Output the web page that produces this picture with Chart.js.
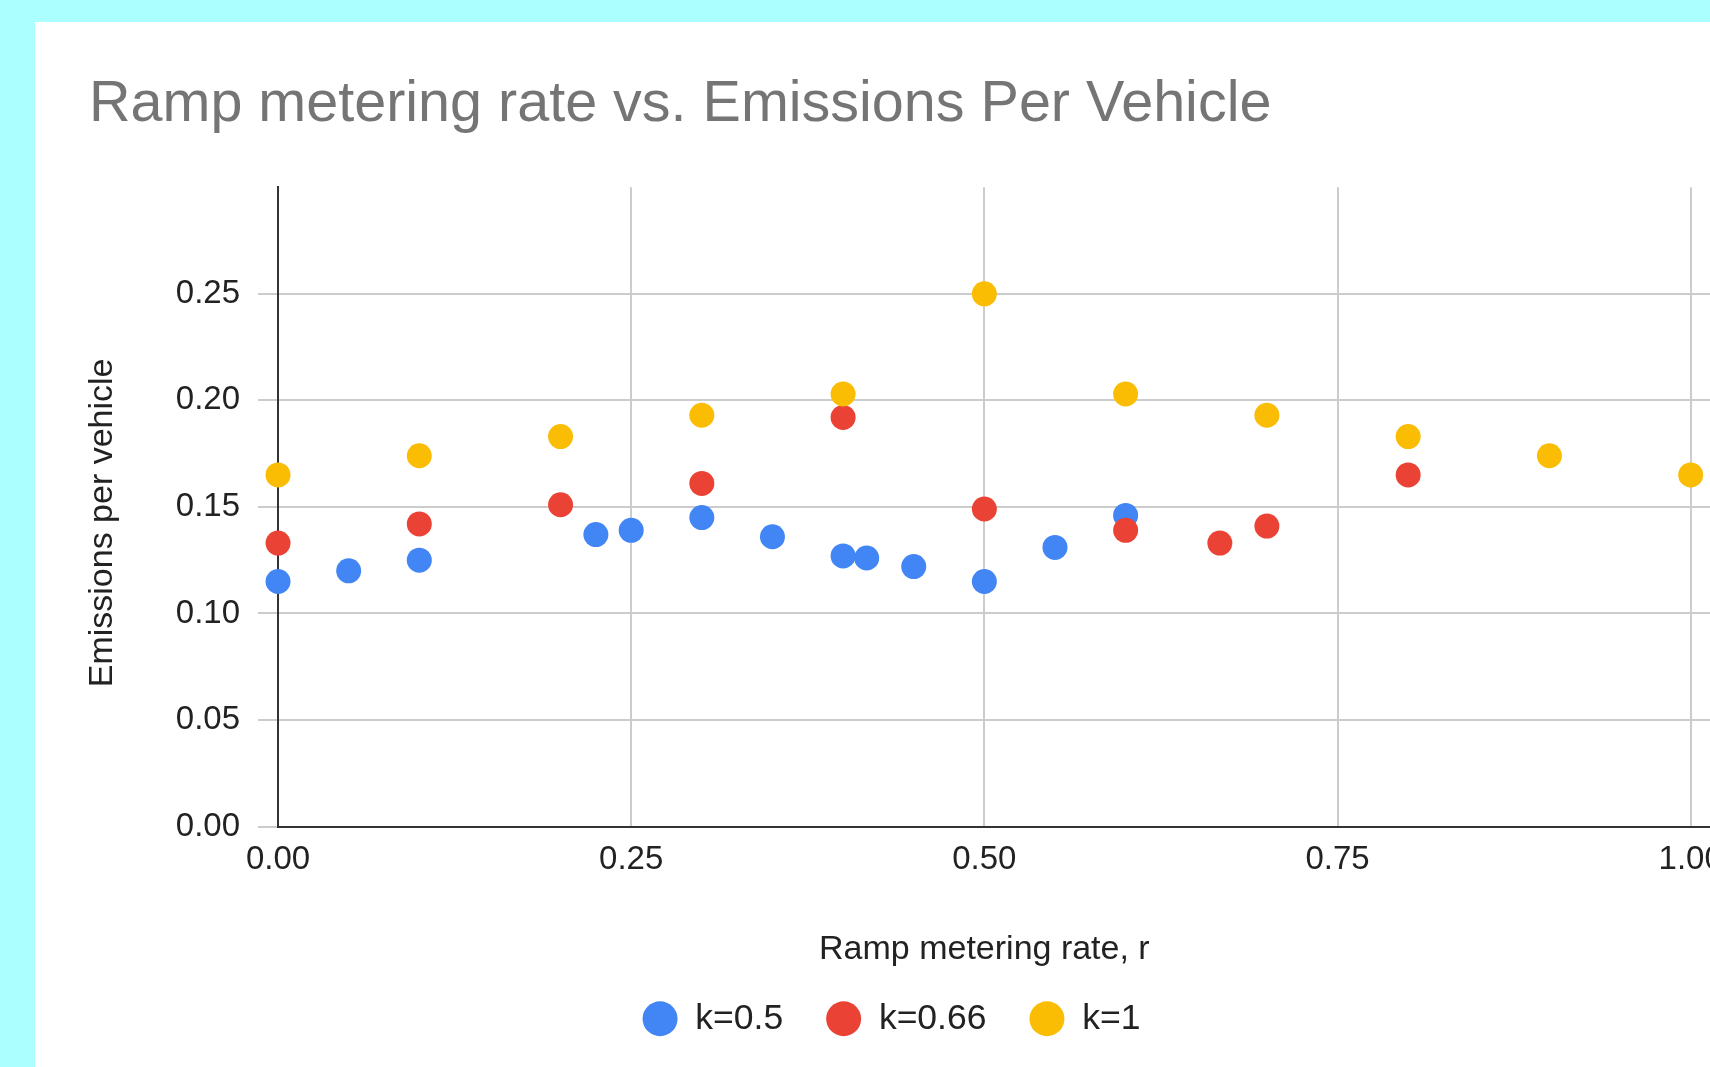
<!DOCTYPE html>
<html>
<head>
<meta charset="utf-8">
<title>Ramp metering rate vs. Emissions Per Vehicle</title>
<script src="https://cdn.jsdelivr.net/npm/chart.js@4.4.1/dist/chart.umd.min.js"></script>
<style>
  html, body { margin: 0; padding: 0; overflow: hidden; }
  body { background: #abffff; width: 1710px; height: 1067px; position: relative; }
  #card { position: absolute; left: 35px; top: 22px; width: 2000px; height: 2000px; background: #fff; }
  #chart { position: absolute; left: 0; top: 0; }
</style>
</head>
<body>
<div id="card"></div>
<canvas id="chart" width="1736" height="1067"></canvas>
<script>
// series
const seriesNames = ["k=0.5", "k=0.66", "k=1"];
const seriesColors = ["#4285f4", "#ea4335", "#fbbc04"];

const rateK05 = [0, 0.05, 0.1, 0.225, 0.25, 0.3, 0.35, 0.4, 0.4167, 0.45, 0.5, 0.55, 0.6];
const emisK05 = [0.115, 0.120, 0.125, 0.137, 0.139, 0.145, 0.136, 0.127, 0.126, 0.122, 0.115, 0.131, 0.146];

const rateK066 = [0, 0.1, 0.2, 0.3, 0.4, 0.5, 0.6, 0.6667, 0.7, 0.8];
const emisK066 = [0.133, 0.142, 0.151, 0.161, 0.192, 0.149, 0.139, 0.133, 0.141, 0.165];

const rateK1 = [0, 0.1, 0.2, 0.3, 0.4, 0.5, 0.6, 0.7, 0.8, 0.9, 1.0];
const emisK1 = [0.165, 0.174, 0.183, 0.193, 0.203, 0.25, 0.203, 0.193, 0.183, 0.174, 0.165];

// tick labels
const xTicks = [0, 0.25, 0.5, 0.75, 1.0];
const yTicks = [0, 0.05, 0.10, 0.15, 0.20, 0.25];

const yTitle = "Emissions per vehicle";
const fontFamily = "'Liberation Sans', Arial, sans-serif";
const gridColor = "#cccccc";
const axisColor = "#333333";
const textColor = "#222222";

function toPoints(xs, ys) {
    return xs.map((x, i) => ({ x: x, y: ys[i] }));
}

// google charts lets the grid run past the last x tick, to the edge
const extendGrid = {
    id: "extendGrid",
    beforeDatasetsDraw(chart) {
        const { ctx, chartArea } = chart;
        const y = chart.scales.y;
        ctx.save();
        ctx.lineWidth = 2;
        ctx.strokeStyle = gridColor;
        y.ticks.forEach(t => {
            if (t.value === 0) return;
            const py = Math.round(y.getPixelForValue(t.value));
            ctx.beginPath();
            ctx.moveTo(chartArea.right, py);
            ctx.lineTo(chart.width, py);
            ctx.stroke();
        });
        const base = Math.round(chartArea.bottom);
        ctx.strokeStyle = axisColor;
        ctx.beginPath();
        ctx.moveTo(chartArea.right - 2, base);
        ctx.lineTo(chart.width, base);
        ctx.stroke();
        ctx.restore();
    }
};

// y title sits a bit below the middle of the axis in the original,
// chart.js can only center it, so draw it here
const yAxisTitle = {
    id: "yAxisTitle",
    afterDraw(chart) {
        const { ctx, chartArea } = chart;
        const y = chart.scales.y;
        ctx.save();
        ctx.translate(y.left + 13.4, (chartArea.top + chartArea.bottom) / 2 + 16);
        ctx.rotate(-Math.PI / 2);
        ctx.font = "34px " + fontFamily;
        ctx.fillStyle = textColor;
        ctx.textAlign = "center";
        ctx.textBaseline = "middle";
        ctx.fillText(yTitle, 0, 0);
        ctx.restore();
    }
};

Chart.defaults.font.family = fontFamily;
Chart.defaults.color = textColor;

const dataSets = [
    toPoints(rateK05, emisK05),
    toPoints(rateK066, emisK066),
    toPoints(rateK1, emisK1)
];

new Chart(document.getElementById("chart"), {
    type: "scatter",
    data: {
        datasets: dataSets.map((pts, i) => ({
            label: seriesNames[i],
            data: pts,
            backgroundColor: seriesColors[i],
            borderColor: seriesColors[i],
            borderWidth: 0,
            pointRadius: 12.5,
            pointHoverRadius: 12.5,
            clip: false,
            order: dataSets.length - i  // later series on top
        }))
    },
    options: {
        responsive: false,
        animation: false,
        devicePixelRatio: 1,
        layout: { padding: { left: 89, right: 42, top: 0, bottom: 20.5 } },
        plugins: {
            title: {
                display: true,
                text: "Ramp metering rate vs. Emissions Per Vehicle",
                align: "start",
                color: "#757575",
                font: { size: 57.5, weight: "normal" },
                padding: { top: 70.5, bottom: 47.8 }
            },
            legend: {
                position: "bottom",
                labels: {
                    usePointStyle: true,
                    pointStyle: "circle",
                    pointStyleWidth: 35,
                    boxHeight: 24.6,
                    padding: 43,
                    color: textColor,
                    font: { size: 35.5 },
                    sort: (a, b) => a.datasetIndex - b.datasetIndex
                }
            },
            tooltip: { enabled: false }
        },
        scales: {
            x: {
                type: "linear",
                min: 0,
                max: 1,
                afterBuildTicks: s => { s.ticks = xTicks.map(v => ({ value: v })); },
                ticks: {
                    padding: 13.2,
                    font: { size: 33 },
                    color: textColor,
                    callback: v => v.toFixed(2)
                },
                grid: { color: gridColor, lineWidth: 2, drawTicks: false },
                border: { display: true, color: axisColor, width: 2 },
                title: {
                    display: true,
                    text: "Ramp metering rate, r",
                    color: textColor,
                    font: { size: 34 },
                    padding: { top: 36.6, bottom: -11.9 }
                }
            },
            y: {
                type: "linear",
                min: 0,
                max: 0.3,
                afterBuildTicks: s => { s.ticks = yTicks.map(v => ({ value: v })); },
                afterFit: s => { s.width += 68.8; },  // room for the title drawn above
                ticks: {
                    padding: 18,
                    font: { size: 33 },
                    color: textColor,
                    callback: v => v.toFixed(2)
                },
                grid: { color: gridColor, lineWidth: 2, tickLength: 20 },
                border: { display: true, color: axisColor, width: 2 },
                title: { display: false }
            }
        }
    },
    plugins: [extendGrid, yAxisTitle]
});
</script>
</body>
</html>
